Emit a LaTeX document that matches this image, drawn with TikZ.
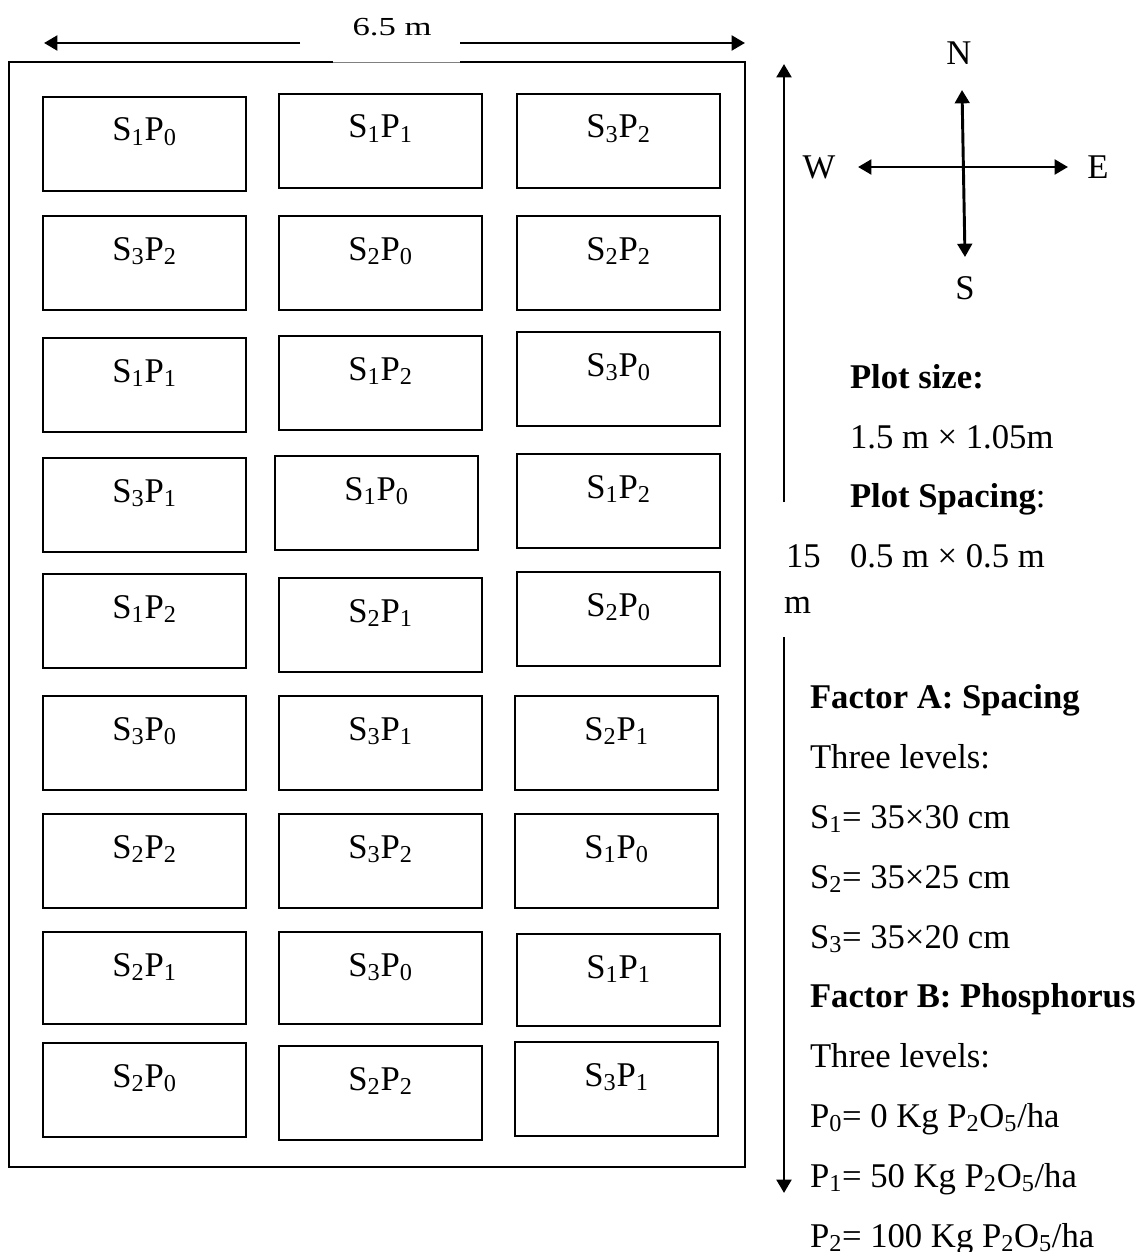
\documentclass[tikz,border=0pt]{standalone}
\usepackage{fontspec}
\setmainfont{Liberation Serif}
\usetikzlibrary{arrows.meta}

\tikzset{every picture/.style={line width=1.5pt}}
\tikzset{plotlab/.style={anchor=base,inner sep=0pt,font=\fontsize{26}{30}\selectfont}}
\tikzset{note/.style={anchor=base west,inner sep=0pt,font=\fontsize{26}{30}\selectfont}}
\tikzset{arr/.style={line width=2.2pt,-{Triangle[length=10pt,width=11pt]}}}
\tikzset{arrboth/.style={line width=2.2pt,{Triangle[length=10pt,width=11pt]}-{Triangle[length=10pt,width=11pt]}}}

\begin{document}
\begin{tikzpicture}[x=0.75pt,y=0.75pt,yscale=-1,xscale=1]
\useasboundingbox (0,0) rectangle (1142,1252);

%Field border (thin edge under the width label)
\draw (333,62) -- (9,62) -- (9,1167) -- (745,1167) -- (745,62) -- (460,62) ;
\draw [line width=0.6pt,gray] (333,62) -- (460,62) ;

%Width 6.5 m
\node[plotlab] (wlab) at (392,36) {\scalebox{1}[0.75]{6.5 m}};
\coordinate (wl) at (300,43);
\coordinate (wr) at (460,43);
\draw [arr] (wl) -- (44,43) ;
\draw [arr] (wr) -- (745,43) ;

%Length 15 m
\node[note] (llab) at (785,567) {15};
\node[note] (llabm) at (783,613) {m};
\coordinate (lt) at (784,502);
\coordinate (lb) at (784,637);
\draw [arr] (lt) -- (784,64) ;
\draw [arr] (lb) -- (784,1193) ;

%Row 1
\draw (43,97) rectangle (246,191) ;
\node[plotlab] (r1c1) at (144.5,141) {S\textsubscript{1}P\textsubscript{0}};
\draw (279,94) rectangle (482,188) ;
\node[plotlab] (r1c2) at (380.5,138) {S\textsubscript{1}P\textsubscript{1}};
\draw (517,94) rectangle (720,188) ;
\node[plotlab] (r1c3) at (618.5,138) {S\textsubscript{3}P\textsubscript{2}};
%Row 2
\draw (43,216) rectangle (246,310) ;
\node[plotlab] (r2c1) at (144.5,260) {S\textsubscript{3}P\textsubscript{2}};
\draw (279,216) rectangle (482,310) ;
\node[plotlab] (r2c2) at (380.5,260) {S\textsubscript{2}P\textsubscript{0}};
\draw (517,216) rectangle (720,310) ;
\node[plotlab] (r2c3) at (618.5,260) {S\textsubscript{2}P\textsubscript{2}};
%Row 3
\draw (43,338) rectangle (246,432) ;
\node[plotlab] (r3c1) at (144.5,382) {S\textsubscript{1}P\textsubscript{1}};
\draw (279,336) rectangle (482,430) ;
\node[plotlab] (r3c2) at (380.5,380) {S\textsubscript{1}P\textsubscript{2}};
\draw (517,332) rectangle (720,426) ;
\node[plotlab] (r3c3) at (618.5,376) {S\textsubscript{3}P\textsubscript{0}};
%Row 4
\draw (43,458) rectangle (246,552) ;
\node[plotlab] (r4c1) at (144.5,502) {S\textsubscript{3}P\textsubscript{1}};
\draw (275,456) rectangle (478,550) ;
\node[plotlab] (r4c2) at (376.5,500) {S\textsubscript{1}P\textsubscript{0}};
\draw (517,454) rectangle (720,548) ;
\node[plotlab] (r4c3) at (618.5,498) {S\textsubscript{1}P\textsubscript{2}};
%Row 5
\draw (43,574) rectangle (246,668) ;
\node[plotlab] (r5c1) at (144.5,618) {S\textsubscript{1}P\textsubscript{2}};
\draw (279,578) rectangle (482,672) ;
\node[plotlab] (r5c2) at (380.5,622) {S\textsubscript{2}P\textsubscript{1}};
\draw (517,572) rectangle (720,666) ;
\node[plotlab] (r5c3) at (618.5,616) {S\textsubscript{2}P\textsubscript{0}};
%Row 6
\draw (43,696) rectangle (246,790) ;
\node[plotlab] (r6c1) at (144.5,740) {S\textsubscript{3}P\textsubscript{0}};
\draw (279,696) rectangle (482,790) ;
\node[plotlab] (r6c2) at (380.5,740) {S\textsubscript{3}P\textsubscript{1}};
\draw (515,696) rectangle (718,790) ;
\node[plotlab] (r6c3) at (616.5,740) {S\textsubscript{2}P\textsubscript{1}};
%Row 7
\draw (43,814) rectangle (246,908) ;
\node[plotlab] (r7c1) at (144.5,858) {S\textsubscript{2}P\textsubscript{2}};
\draw (279,814) rectangle (482,908) ;
\node[plotlab] (r7c2) at (380.5,858) {S\textsubscript{3}P\textsubscript{2}};
\draw (515,814) rectangle (718,908) ;
\node[plotlab] (r7c3) at (616.5,858) {S\textsubscript{1}P\textsubscript{0}};
%Row 8
\draw (43,932) rectangle (246,1024) ;
\node[plotlab] (r8c1) at (144.5,976) {S\textsubscript{2}P\textsubscript{1}};
\draw (279,932) rectangle (482,1024) ;
\node[plotlab] (r8c2) at (380.5,976) {S\textsubscript{3}P\textsubscript{0}};
\draw (517,934) rectangle (720,1026) ;
\node[plotlab] (r8c3) at (618.5,978) {S\textsubscript{1}P\textsubscript{1}};
%Row 9
\draw (43,1043) rectangle (246,1137) ;
\node[plotlab] (r9c1) at (144.5,1087) {S\textsubscript{2}P\textsubscript{0}};
\draw (279,1046) rectangle (482,1140) ;
\node[plotlab] (r9c2) at (380.5,1090) {S\textsubscript{2}P\textsubscript{2}};
\draw (515,1042) rectangle (718,1136) ;
\node[plotlab] (r9c3) at (616.5,1086) {S\textsubscript{3}P\textsubscript{1}};

%Compass
\node[plotlab] (north) at (959,65) {N};
\node[plotlab] (south) at (965,299) {S};
\node[plotlab] (west) at (819,178) {W};
\node[plotlab] (east) at (1098,178) {E};
\coordinate (ntip) at (962,90);
\coordinate (stip) at (965,257);
\coordinate (wtip) at (858,167);
\coordinate (etip) at (1068,167);
\draw [arrboth] (ntip) -- (stip) ;
\draw [arrboth] (wtip) -- (etip) ;

%Plot notes
\node[note] (psize) at (849,388) {\textbf{Plot size:}};
\node[note] (pdim) at (849,448) {1.5 m × 1.05m};
\node[note] (pspc) at (849,507) {\textbf{Plot Spacing}:};
\node[note] (pgap) at (849,567) {0.5 m × 0.5 m};

%Factors
\node[note] (fa) at (809,708) {\textbf{Factor A: Spacing}};
\node[note] (fal) at (809,768) {Three levels:};
\node[note] (s1) at (809,828) {S\textsubscript{1}= 35×30 cm};
\node[note] (s2) at (809,888) {S\textsubscript{2}= 35×25 cm};
\node[note] (s3) at (809,948) {S\textsubscript{3}= 35×20 cm};
\node[note] (fb) at (809,1007) {\textbf{Factor B: Phosphorus}};
\node[note] (fbl) at (809,1067) {Three levels:};
\node[note] (p0) at (809,1127) {P\textsubscript{0}= 0 Kg P\textsubscript{2}O\textsubscript{5}/ha};
\node[note] (p1) at (809,1187) {P\textsubscript{1}= 50 Kg P\textsubscript{2}O\textsubscript{5}/ha};
\node[note] (p2) at (809,1247) {P\textsubscript{2}= 100 Kg P\textsubscript{2}O\textsubscript{5}/ha};
\end{tikzpicture}
\end{document}
